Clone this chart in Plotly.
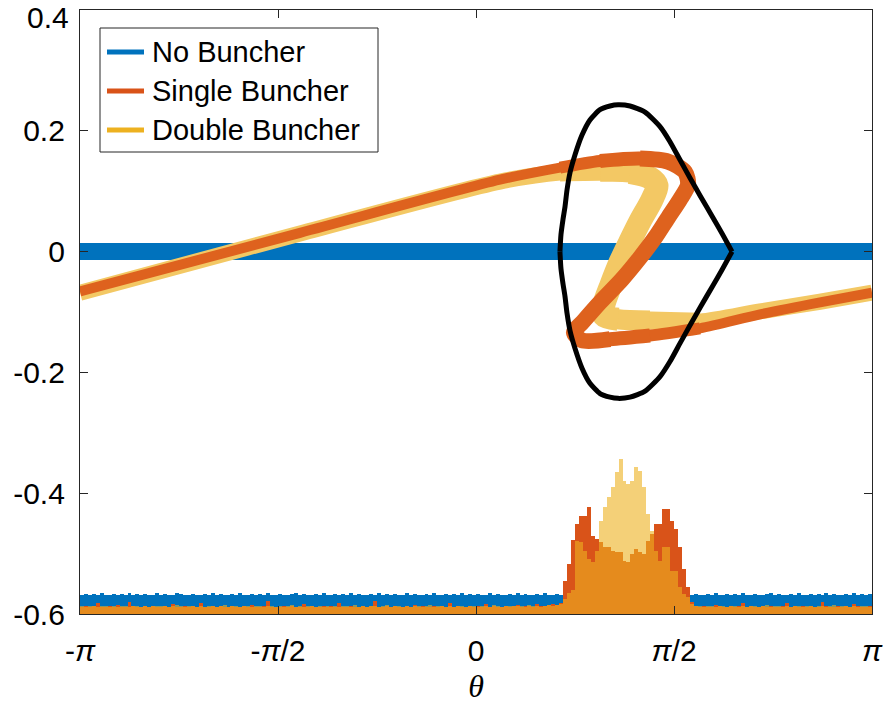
import numpy as np
import plotly.graph_objects as go

PI = np.pi

# ---------------- data ----------------
# separatrix (black closed curve): upper and lower halves, theta / energy deviation
sep_up_x = [0.666, 0.674, 0.690, 0.706, 0.722, 0.746, 0.785, 0.841, 0.904, 0.984, 1.063, 1.127,
            1.222, 1.341, 1.460, 1.539, 1.618, 1.698, 1.777, 1.880, 1.952, 2.031]
sep_up_y = [0.000, 0.028, 0.053, 0.074, 0.102, 0.131, 0.160, 0.193, 0.218, 0.235, 0.241, 0.243,
            0.241, 0.231, 0.207, 0.182, 0.152, 0.122, 0.093, 0.056, 0.030, 0.000]
sep_lo_x = [0.666, 0.674, 0.690, 0.706, 0.722, 0.746, 0.785, 0.841, 0.904, 0.984, 1.063, 1.127,
            1.222, 1.341, 1.460, 1.539, 1.618, 1.698, 1.777, 1.880, 1.952, 2.031]
sep_lo_y = [0.000, -0.028, -0.053, -0.074, -0.102, -0.131, -0.160, -0.193, -0.218, -0.235, -0.241, -0.243,
            -0.241, -0.231, -0.207, -0.182, -0.152, -0.122, -0.093, -0.056, -0.030, 0.000]

# particle distributions (centre lines of the scatter bands)
none_x = [-PI, PI]
none_y = [0.0, 0.0]

single_x = [-PI, -1.396, 0.190, 0.666, 0.984, 1.301, 1.523, 1.658, 1.682, 1.618, 1.523, 1.420,
            1.301, 1.158, 0.984, 0.849, 0.777, 0.841, 1.063, 1.380, 1.777, 2.253, 2.729, PI]
single_y = [-0.066, 0.031, 0.119, 0.139, 0.150, 0.154, 0.149, 0.132, 0.111, 0.086, 0.056, 0.023,
            -0.010, -0.046, -0.084, -0.116, -0.134, -0.147, -0.145, -0.139, -0.127, -0.104, -0.084, -0.068]

double_x = [-PI, -1.396, 0.190, 0.666, 0.984, 1.222, 1.380, 1.436, 1.396, 1.301, 1.222, 1.142,
            1.071, 1.015, 1.015, 1.127, 1.380, 1.777, 2.253, 2.729, PI]
double_y = [-0.068, 0.030, 0.116, 0.131, 0.132, 0.131, 0.122, 0.109, 0.086, 0.050, 0.017, -0.018,
            -0.055, -0.088, -0.106, -0.112, -0.114, -0.116, -0.099, -0.083, -0.068]

# histograms (bar heights above the -0.6 baseline, in units of 1e-3), 200 bins over [-pi, pi]
n_bins = 200
hist_base = -0.6
none_hist = [
    32, 33, 31, 33, 32, 34, 32, 31, 33, 32,
    33, 32, 34, 31, 33, 32, 33, 31, 32, 34,
    32, 33, 31, 32, 34, 33, 32, 31, 33, 32,
    31, 33, 32, 34, 32, 33, 31, 32, 33, 32,
    34, 32, 31, 33, 32, 33, 32, 34, 31, 32,
    33, 32, 31, 33, 34, 32, 33, 31, 32, 33,
    32, 34, 31, 32, 33, 32, 33, 31, 34, 32,
    33, 31, 32, 33, 32, 34, 31, 33, 32, 33,
    32, 31, 34, 32, 33, 31, 32, 33, 32, 34,
    31, 32, 33, 32, 33, 31, 34, 32, 33, 32,
    33, 32, 31, 34, 32, 33, 32, 31, 33, 32,
    34, 32, 33, 31, 32, 33, 32, 34, 31, 32,
    33, 32, 31, 33, 32, 34, 32, 33, 31, 32,
    33, 32, 34, 31, 32, 33, 32, 31, 33, 32,
    32, 33, 31, 32, 34, 33, 32, 31, 33, 32,
    31, 33, 32, 34, 32, 33, 31, 32, 33, 32,
    34, 32, 31, 33, 32, 33, 32, 34, 31, 32,
    33, 32, 31, 33, 34, 32, 33, 31, 32, 33,
    32, 34, 31, 32, 33, 32, 33, 31, 34, 32,
    33, 31, 32, 33, 32, 34, 31, 33, 32, 33,
]
single_hist = [
    12, 13, 11, 14, 19, 12, 11, 13, 12, 15,
    11, 12, 20, 13, 12, 11, 14, 12, 13, 11,
    12, 13, 11, 16, 12, 12, 14, 11, 13, 12,
    19, 12, 11, 13, 12, 14, 11, 12, 13, 12,
    11, 13, 12, 15, 12, 11, 13, 21, 12, 12,
    11, 14, 12, 13, 11, 12, 16, 12, 13, 11,
    12, 14, 11, 13, 12, 18, 11, 12, 13, 12,
    11, 14, 12, 13, 22, 12, 11, 13, 12, 14,
    12, 11, 13, 12, 15, 12, 13, 11, 12, 14,
    12, 13, 11, 19, 12, 13, 12, 11, 14, 12,
    13, 12, 16, 12, 13, 11, 12, 14, 12, 13,
    15, 12, 13, 14, 12, 16, 13, 14, 15, 17,
    15, 18,
    55, 83, 122, 149, 162, 162, 177, 129, 124, 119, 111, 111, 104, 102, 102, 88, 86,
    99, 107, 102, 99, 121, 132, 149, 149, 174, 174, 154, 140, 111, 74, 45, 20,
    14, 12, 13, 11, 12, 15, 13, 12, 11, 13,
    12, 14, 19, 12, 13, 11, 12, 13, 12, 14,
    11, 12, 13, 18, 12, 13, 11, 14, 12, 13,
    12, 11, 20, 13, 12, 12, 14, 11, 13, 12,
    17, 13, 12, 11, 13,
]
double_hist = [
    13, 12, 14, 13, 12, 13, 14, 12, 13, 12,
    14, 13, 12, 13, 14, 12, 13, 12, 14, 13,
    13, 14, 12, 13, 15, 13, 12, 14, 13, 12,
    13, 12, 14, 13, 12, 13, 15, 12, 13, 14,
    12, 13, 14, 12, 13, 13, 12, 14, 13, 12,
    14, 12, 13, 15, 12, 13, 12, 13, 14, 12,
    13, 12, 14, 12, 13, 12, 14, 13, 12, 15,
    12, 13, 12, 14, 13, 12, 13, 15, 12, 13,
    14, 12, 13, 12, 13, 14, 12, 13, 15, 12,
    13, 14, 12, 13, 12, 14, 13, 12, 13, 14,
    12, 13, 14, 12, 15, 13, 12, 13, 14, 13,
    14, 13, 12, 15, 13, 14, 12, 13, 15, 14,
    15, 16,
    25, 35, 40, 121, 119, 104, 91, 86, 104, 154, 177, 193, 210, 235, 256, 220, 215,
    220, 243, 236, 210, 165, 137, 104, 88, 111, 111, 71, 71, 45, 33, 28, 16,
    14, 13, 12, 14, 13, 12, 13, 14, 12, 13,
    14, 12, 13, 12, 14, 13, 12, 13, 15, 12,
    13, 14, 12, 13, 12, 14, 13, 12, 13, 14,
    12, 13, 14, 12, 13, 15, 12, 13, 14, 12,
    13, 12, 14, 13, 12,
]

series_names = ["No Buncher", "Single Buncher", "Double Buncher"]
PI_T = "<i>π</i>"
x_tickvals = [-PI, -PI / 2, 0, PI / 2, PI]
x_ticktext = ["-" + PI_T, "-" + PI_T + "/2", "0", PI_T + "/2", PI_T]
y_tickvals = [-0.6, -0.4, -0.2, 0, 0.2, 0.4]
y_ticktext = ["-0.6", "-0.4", "-0.2", "0", "0.2", ""]   # top label drawn separately so it stays inside the page
top_label = "0.4"

# ---------------- styles ----------------
BLUE = "rgb(0,114,189)"
ORANGE = "rgb(217,83,25)"
YELLOW = "rgb(237,177,32)"
LIGHT_YELLOW = "rgb(243,200,100)"
ORANGE_BAND = "rgb(222,98,30)"
AXC = "#262626"

edges = np.linspace(-PI, PI, n_bins + 1)
centers = 0.5 * (edges[:-1] + edges[1:])
bw = edges[1] - edges[0]

fig = go.Figure()

# histograms
for hist, col, op in [(none_hist, BLUE, 1.0), (single_hist, ORANGE, 1.0), (double_hist, YELLOW, 0.6)]:
    fig.add_trace(go.Bar(x=centers, y=np.array(hist) / 1000.0, base=hist_base, width=bw,
                         marker=dict(color=col, line=dict(width=0)), opacity=op,
                         showlegend=False, hoverinfo="skip"))

# particle bands (the bunched, S-shaped part spreads wider: nested slices drawn progressively thicker)
fig.add_trace(go.Scatter(x=none_x, y=none_y, mode="lines",
                         line=dict(color=BLUE, width=17), showlegend=False))
for sl, w in [(slice(None), 16), (slice(3, 18), 18), (slice(4, 17), 20), (slice(5, 16), 23)]:
    fig.add_trace(go.Scatter(x=double_x[sl], y=double_y[sl], mode="lines",
                             line=dict(color=LIGHT_YELLOW, width=w, shape="spline", smoothing=0.8),
                             showlegend=False, hoverinfo="skip"))
for sl, w in [(slice(None), 10), (slice(3, 21), 12), (slice(4, 20), 14), (slice(5, 19), 16)]:
    fig.add_trace(go.Scatter(x=single_x[sl], y=single_y[sl], mode="lines",
                             line=dict(color=ORANGE_BAND, width=w, shape="spline", smoothing=0.8),
                             showlegend=False, hoverinfo="skip"))

# separatrix
for sx, sy in [(sep_up_x, sep_up_y), (sep_lo_x, sep_lo_y)]:
    fig.add_trace(go.Scatter(x=sx, y=sy, mode="lines",
                             line=dict(color="black", width=5, shape="spline", smoothing=0.6),
                             showlegend=False))

# legend (box, colour keys and labels placed in paper coordinates)
L, R, T, B = 80, 872, 10, 614          # plot area in pixels
def px(x): return (x - L) / (R - L)
def py(y): return (B - y) / (B - T)

fig.add_shape(type="rect", xref="paper", yref="paper", x0=px(100), x1=px(378), y0=py(152), y1=py(28),
              line=dict(color=AXC, width=1), fillcolor="white", layer="above")
for i, (name, col) in enumerate(zip(series_names, [BLUE, ORANGE, YELLOW])):
    yc = 52 + 39 * i
    fig.add_shape(type="line", xref="paper", yref="paper", x0=px(107), x1=px(144), y0=py(yc), y1=py(yc),
                  line=dict(color=col, width=5), layer="above")
    fig.add_annotation(xref="paper", yref="paper", x=px(150), y=py(yc), text=name, showarrow=False,
                       xanchor="left", yanchor="middle", font=dict(size=29, color="black"))

# top y tick label, nudged down a little so it is not clipped by the page edge
fig.add_annotation(xref="paper", yref="paper", x=px(71), y=py(17), text=top_label, showarrow=False,
                   xanchor="right", yanchor="middle", font=dict(size=30, color="black"))

fig.update_layout(
    width=883, height=715,
    margin=dict(l=L, r=883 - R, t=T, b=715 - B, autoexpand=False),
    plot_bgcolor="white", paper_bgcolor="white",
    barmode="overlay", bargap=0, showlegend=False,
    font=dict(family="Liberation Sans", size=30, color="black"),
)
fig.update_xaxes(range=[-PI, PI], tickvals=x_tickvals, ticktext=x_ticktext,
                 ticks="inside", ticklen=8, tickwidth=1.2, tickcolor=AXC,
                 showline=True, linecolor=AXC, linewidth=1.3, mirror="ticks",
                 showgrid=False, zeroline=False, ticklabelstandoff=10,
                 ticklabeloverflow="allow", automargin=False,
                 title=dict(text="<i>θ</i>", font=dict(family="Liberation Serif", size=32), standoff=8))
fig.update_yaxes(range=[-0.6, 0.4], tickvals=y_tickvals, ticktext=y_ticktext,
                 ticks="inside", ticklen=8, tickwidth=1.2, tickcolor=AXC,
                 showline=True, linecolor=AXC, linewidth=1.3, mirror="ticks",
                 showgrid=False, zeroline=False, ticklabelstandoff=8,
                 ticklabeloverflow="allow", automargin=False)

fig.write_html("out.html")
